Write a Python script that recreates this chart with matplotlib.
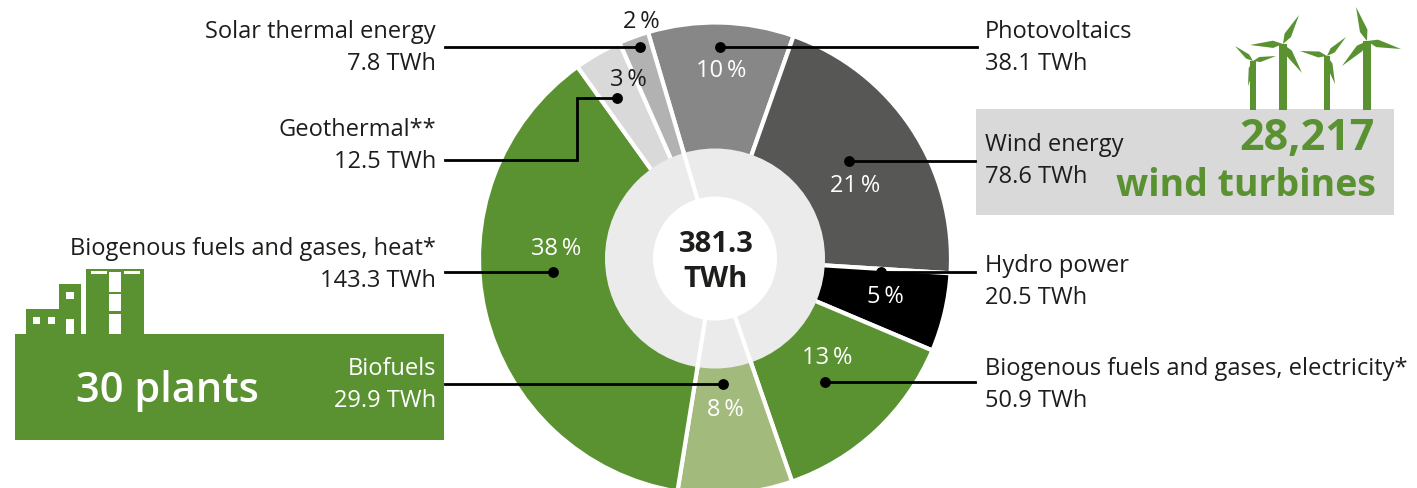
import numpy as np
import matplotlib
matplotlib.use("Agg")
import matplotlib.pyplot as plt
from matplotlib.patches import Circle, Rectangle, Polygon

# ---------- data ----------
sources = [
    "Photovoltaics",
    "Wind energy",
    "Hydro power",
    "Biogenous fuels and gases, electricity*",
    "Biofuels",
    "Biogenous fuels and gases, heat*",
    "Geothermal**",
    "Solar thermal energy",
]
twh = [38.1, 78.6, 20.5, 50.9, 29.9, 143.3, 12.5, 7.8]
shares = ["10", "21", "5", "13", "8", "38", "3", "2"]
colors = ["#878787", "#575756", "#000000", "#5a9231", "#a3ba7d", "#5a9231", "#d9d9d9", "#b2b2b2"]
total = "381.3"

# ---------- layout (pixels of the 1417x489 picture) ----------
W, H = 1417, 489
GREEN = "#5a9231"
INK = "#1d1d1b"
CX, CY = 715, 259.5
START = -16.5  # degrees clockwise from the top

text_x = [985, 985, 985, 985, 436, 436, 436, 436]
text_y = [32, 145, 266, 369, 369, 249, 130, 32]
dots = [(720, 47.5), (849, 161.5), (881, 272.5), (825, 382.5), (723, 384.5), (553, 272.5), (617, 98.5), (640, 47.5)]
line_end = [977, 975, 975, 975, 445, 445, 445, 445]
share_pos = [(721, 71), (855, 186), (885, 297), (827, 358), (725, 410), (556, 249), (628, 80), (641, 22)]
share_col = ["white", "white", "white", "white", "white", "white", INK, INK]

plt.rcParams["font.family"] = ["Open Sans", "DejaVu Sans"]


def Y(py):
    return H - py


fig = plt.figure(figsize=(W / 100, H / 100), dpi=100)
ax = fig.add_axes([0, 0, 1, 1])

# ---------- boxes ----------
ax.add_patch(Rectangle((976, Y(215.5)), 418, 106, color="#d9d9d9", lw=0, zorder=1))
ax.add_patch(Rectangle((15, Y(440.5)), 429, 106, color=GREEN, lw=0, zorder=1))

# ---------- donut ----------
ax.pie(
    twh,
    colors=colors,
    center=(CX, Y(CY)),
    radius=236,
    startangle=90 - START,
    counterclock=False,
    wedgeprops={"edgecolor": "white", "linewidth": 3, "zorder": 2},
)
ax.add_patch(Circle((CX, Y(CY)), 110, color="#ebebeb", lw=0, zorder=3))

# white spokes running on through the ring
bounds = START + np.cumsum([0] + twh) / sum(twh) * 360
for b in [bounds[0], bounds[4], bounds[5]]:
    a = np.radians(b)
    ax.plot(
        [CX + 60 * np.sin(a), CX + 112 * np.sin(a)],
        [Y(CY) + 60 * np.cos(a), Y(CY) + 112 * np.cos(a)],
        color="white", lw=3, zorder=4, solid_capstyle="butt",
    )
ax.add_patch(Circle((CX, Y(CY)), 62, color="white", lw=0, zorder=5))

ax.text(CX + 1, Y(245), total, ha="center", va="center", fontsize=21, fontweight="bold", color=INK, zorder=6)
ax.text(CX + 1, Y(280), "TWh", ha="center", va="center", fontsize=21, fontweight="bold", color=INK, zorder=6)

# ---------- labels and leader lines ----------
for i, name in enumerate(sources):
    ha = "left" if text_x[i] > CX else "right"
    col = "white" if name == "Biofuels" else INK
    ax.text(text_x[i], Y(text_y[i]), name, ha=ha, va="center", fontsize=17, color=col, zorder=6)
    ax.text(text_x[i], Y(text_y[i] + 32), f"{twh[i]} TWh", ha=ha, va="center", fontsize=17, color=col, zorder=6)

    dx, dy = dots[i]
    if name.startswith("Geothermal"):
        xs, ys = [dx, 577, 577, line_end[i]], [dy, dy, 160.5, 160.5]
    else:
        xs, ys = [dx, line_end[i]], [dy, dy]
    ax.plot(xs, [Y(v) for v in ys], color="black", lw=2, zorder=7, solid_joinstyle="miter")
    ax.plot(dx, Y(dy), "o", color="black", ms=7.8, mew=0, zorder=8)

    sx, sy = share_pos[i]
    ax.text(sx, Y(sy), shares[i] + "\u2009%", ha="center", va="center", fontsize=17, color=share_col[i], zorder=6)

# ---------- wind turbines ----------
turbines = [
    ((1253, 62), 1250, 1256, [(1235, 47), (1276, 57), (1248, 87)]),
    ((1283, 45), 1279, 1287, [(1299, 16), (1250, 46), (1302, 74)]),
    ((1327, 57), 1324, 1330, [(1346, 38), (1300, 52), (1335, 85)]),
    ((1367, 42), 1363, 1371, [(1356, 8), (1401, 50), (1342, 67)]),
]
for hub, left, right, tips in turbines:
    ax.add_patch(Rectangle((left, Y(110.5)), right - left, 110.5 - hub[1], color=GREEN, lw=0, zorder=2))
    for tip in tips:
        hx, hy = hub
        tx, ty = tip
        nx, ny = -(ty - hy) * 0.11, (tx - hx) * 0.11
        mx, my = hx + (tx - hx) * 0.3, hy + (ty - hy) * 0.3
        pts = [(hx, hy), (mx + nx, my + ny), (tx, ty), (mx - nx, my - ny)]
        ax.add_patch(Polygon([(px, Y(py)) for px, py in pts], color=GREEN, lw=0, zorder=2))

ax.text(1375, Y(139), "28,217", ha="right", va="center", fontsize=31, fontweight="bold", color=GREEN, zorder=6)
ax.text(1376, Y(186), "wind turbines", ha="right", va="center", fontsize=27, fontweight="bold", color=GREEN, zorder=6)

# ---------- factory ----------
green_parts = [(26, 310, 34, 26), (59, 285, 22, 51), (86, 270, 58, 66)]
white_parts = [
    (33, 318, 7, 7), (48, 318, 7, 7), (66, 293, 8, 7), (66, 320, 8, 15),
    (81, 295, 5, 17), (81, 315, 5, 20), (109, 273, 12, 20), (109, 295, 12, 17), (109, 315, 12, 20),
    (91, 272, 16, 3), (124, 272, 16, 3),
]
for x, y, w, h in green_parts:
    ax.add_patch(Rectangle((x, Y(y + h)), w, h, color=GREEN, lw=0, zorder=2))
for x, y, w, h in white_parts:
    ax.add_patch(Rectangle((x, Y(y + h)), w, h, color="white", lw=0, zorder=3))

ax.text(167, Y(391), "30 plants", ha="center", va="center", fontsize=30, fontweight="semibold", color="white", zorder=6)

ax.set_xlim(0, W)
ax.set_ylim(0, H)
ax.axis("off")

fig.savefig("out.png", dpi=100)
